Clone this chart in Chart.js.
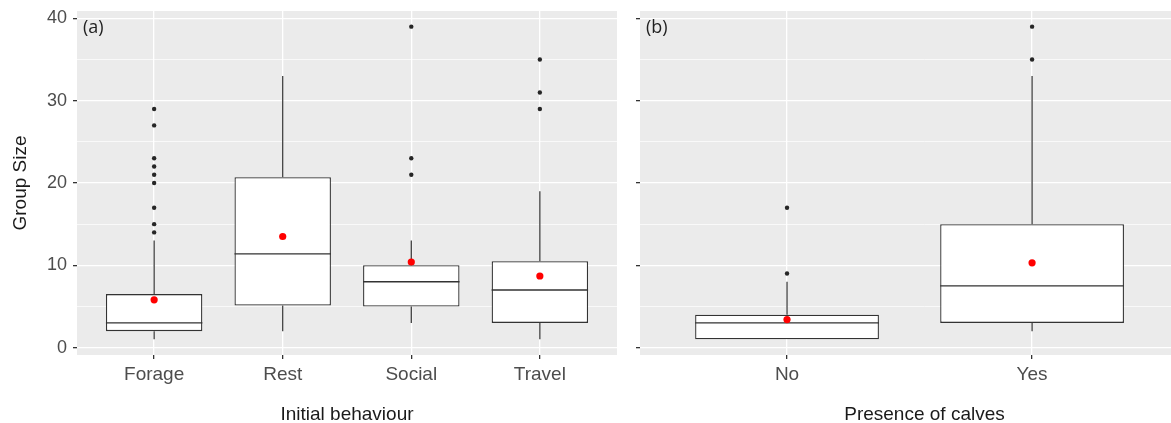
<!DOCTYPE html>
<html><head><meta charset="utf-8">
<script src="https://cdn.jsdelivr.net/npm/chart.js@4/dist/chart.umd.min.js"></script>
<style>
html,body{margin:0;padding:0;background:#fff;overflow:hidden;width:1171px;height:423px;position:relative;}
#a{position:absolute;left:0;top:0;}
#b{position:absolute;left:617px;top:0;}
</style></head><body>
<canvas id="a" width="617" height="423"></canvas>
<canvas id="b" width="592" height="423"></canvas>
<script>
// ---- Panel (a): Initial behaviour ----
const behaviourCats = ['Forage', 'Rest', 'Social', 'Travel'];
const behaviourLower = [1, 2, 3, 1];
const behaviourQ1 = [2, 5.1, 5, 3];
const behaviourMedian = [3, 11.4, 8, 7];
const behaviourQ3 = [6.5, 20.7, 10, 10.5];
const behaviourUpper = [13, 33, 13, 19];
const behaviourMean = [5.8, 13.5, 10.4, 8.7];
const behaviourOutliers = [[14, 15, 17, 20, 21, 22, 23, 27, 29], [], [21, 23, 39], [29, 31, 35]];

// ---- Panel (b): Presence of calves ----
const calvesCats = ['No', 'Yes'];
const calvesLower = [1, 2];
const calvesQ1 = [1, 3];
const calvesMedian = [3, 7.5];
const calvesQ3 = [4, 15];
const calvesUpper = [8, 33];
const calvesMean = [3.4, 10.3];
const calvesOutliers = [[9, 17], [35, 39]];

const yTicks = [0, 5, 10, 15, 20, 25, 30, 35, 40];

Chart.defaults.font.family = "'Liberation Sans', Arial, sans-serif";
Chart.defaults.animation = false;

const BOX_HALF = 0.375;
const GREY = '#333333';

const panelBg = {
  id: 'panelBg',
  beforeDraw(chart) {
    const a = chart.chartArea, ctx = chart.ctx;
    ctx.save();
    ctx.fillStyle = '#EBEBEB';
    ctx.fillRect(a.left, a.top, a.right - a.left, a.bottom - a.top);
    ctx.restore();
  }
};

const panelTag = {
  id: 'panelTag',
  afterDraw(chart, args, opts) {
    const a = chart.chartArea, ctx = chart.ctx;
    ctx.save();
    ctx.font = "18px 'Open Sans', sans-serif";
    ctx.fillStyle = '#1F1F1F';
    ctx.textBaseline = 'middle';
    ctx.textAlign = 'left';
    ctx.fillText(opts.text, a.left + 6, a.top + 17);
    ctx.restore();
  }
};

function makePanel(id, tag, cats, lower, q1, med, q3, upper, mean, outliers, cfg) {
  const idx = cats.map((c, i) => i + 1);
  const boxData = idx.map((x, i) => ({ x: x, y: [q1[i], q3[i]] }));
  const medData = [];
  idx.forEach((x, i) => {
    medData.push({ x: x - BOX_HALF, y: med[i] }, { x: x + BOX_HALF, y: med[i] }, { x: x + BOX_HALF, y: null });
  });
  const whiskData = [];
  idx.forEach((x, i) => {
    whiskData.push({ x: x, y: q3[i] }, { x: x, y: upper[i] }, { x: x, y: null },
                   { x: x, y: lower[i] }, { x: x, y: q1[i] }, { x: x, y: null });
  });
  const outData = [];
  idx.forEach((x, i) => outliers[i].forEach(v => outData.push({ x: x, y: v })));
  const meanData = idx.map((x, i) => ({ x: x, y: mean[i] }));

  return new Chart(document.getElementById(id), {
    type: 'bar',
    data: {
      datasets: [
        { type: 'line', data: whiskData, borderColor: GREY, borderWidth: 1.2, pointRadius: 0, spanGaps: false, order: 4 },
        { type: 'bar', data: boxData, backgroundColor: '#FFFFFF', borderColor: GREY, borderWidth: 1.3,
          borderSkipped: false, categoryPercentage: 0.75, barPercentage: 1, order: 3 },
        { type: 'line', data: medData, borderColor: GREY, borderWidth: 1.3, pointRadius: 0, spanGaps: false, order: 2 },
        { type: 'scatter', data: outData, backgroundColor: '#262626', borderWidth: 0, pointRadius: 2.2, order: 1 },
        { type: 'scatter', data: meanData, backgroundColor: '#FF0000', borderWidth: 0, pointRadius: 3.6, order: 0 }
      ]
    },
    options: {
      responsive: false,
      animation: false,
      layout: { autoPadding: false, padding: { top: 11, right: 0, bottom: 0, left: 0 } },
      plugins: { legend: { display: false }, tooltip: { enabled: false }, panelTag: { text: tag } },
      scales: {
        x: {
          type: 'linear', min: 0.4, max: cfg.xMax, offset: false,
          afterBuildTicks(s) { s.ticks = idx.map(v => ({ value: v })); },
          afterFit(s) { s.height = 68; s.paddingLeft = 0; s.paddingRight = 0; },
          grid: { offset: false, color: '#FFFFFF', lineWidth: 1.3, tickColor: GREY, tickLength: 4, drawTicks: true },
          border: { display: false },
          ticks: { autoSkip: false, maxRotation: 0, padding: 4, color: '#4D4D4D', font: { size: 19 },
                   callback: v => cats[Math.round(v) - 1] },
          title: { display: true, text: cfg.xTitle, color: '#1A1A1A', font: { size: 19, lineHeight: 0.85 },
                   padding: { top: 0, bottom: 0 } }
        },
        y: {
          type: 'linear', min: -0.9, max: 40.9,
          afterBuildTicks(s) { s.ticks = yTicks.map(v => ({ value: v })); },
          afterFit(s) { s.width = cfg.yWidth; s.paddingTop = 0; s.paddingBottom = 0; },
          grid: {
            color: '#FFFFFF',
            lineWidth: c => (c.tick && c.tick.value % 10 !== 0) ? 0.7 : 1.3,
            tickColor: c => (c.tick && c.tick.value % 10 !== 0) ? 'rgba(0,0,0,0)' : GREY,
            tickLength: 4
          },
          border: { display: false },
          ticks: { display: cfg.yLabels, padding: 6, color: '#4D4D4D', font: { size: 18 },
                   callback: v => (v % 10 === 0 ? String(v) : '') },
          title: { display: cfg.yLabels, text: 'Group Size', color: '#1A1A1A', font: { size: 19 },
                   padding: { top: 9, bottom: 0 } }
        }
      }
    },
    plugins: [panelBg, panelTag]
  });
}

makePanel('a', '(a)', behaviourCats, behaviourLower, behaviourQ1, behaviourMedian, behaviourQ3,
  behaviourUpper, behaviourMean, behaviourOutliers,
  { xMax: 4.6, xTitle: 'Initial behaviour', yWidth: 77, yLabels: true });
makePanel('b', '(b)', calvesCats, calvesLower, calvesQ1, calvesMedian, calvesQ3,
  calvesUpper, calvesMean, calvesOutliers,
  { xMax: 2.722, xTitle: 'Presence of calves', yWidth: 23, yLabels: false });
</script>
</body></html>
